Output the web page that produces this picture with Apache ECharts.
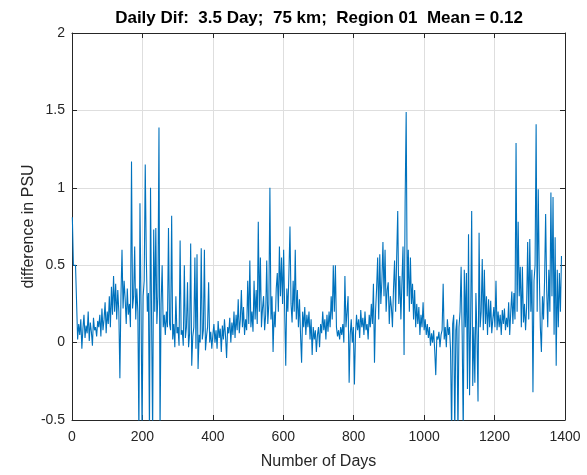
<!DOCTYPE html>
<html>
<head>
<meta charset="utf-8">
<script src="https://cdn.jsdelivr.net/npm/echarts@6/dist/echarts.min.js"></script>
<style>
  html, body { margin: 0; padding: 0; background: #fff; }
  #chart { width: 587px; height: 475px; }
</style>
</head>
<body>
<div id="chart"></div>
<script>
// daily salinity difference (PSU), one sample every 3 days starting at day 1
const firstDay = 1;
const dayStep = 3;
const psuDiff = [
  // days 1-13
  0.81, 0.5, 0.5, 0.5, 0.5,
  // days 16-73
  0.02, 0.12, 0.05, 0.15, -0.04, 0.09, 0.18, 0.03, 0.11, 0.06, 0.2, 0.01, 0.13, 0.07, -0.02, 0.16, 0.08, 0.1, 0.04, 0.14,
  // days 76-133
  0.1, 0.18, 0.04, 0.22, 0.08, 0.15, 0.26, 0.06, 0.2, 0.12, 0.3, 0.1, 0.36, 0.18, 0.43, 0.2, 0.38, 0.15, 0.34, 0.2,
  // days 136-148
  -0.23, 0.3, 0.6, 0.22, 0.4,
  // days 151-208
  0.28, 0.12, 0.35, 0.18, 0.25, 0.1, 1.17, 0.22, 0.3, 0.62, 0.15, 0.35, 0.2, -0.6, 0.9, 0.25, -0.6, 0.3, 0.4, 1.15,
  // days 211-259
  0.55, 0.2, 0.32, -0.6, 1.0, 0.15, -0.6, 0.73, 0.2, 0.74, 0.12, 0.3, 1.39, -0.6, 0.25, 0.5, 0.1,
  // days 262-310
  0.18, 0.05, 0.2, 0.1, 0.74, 0.12, 0.08, 0.82, 0.02, 0.12, -0.03, 0.3, 0.06, 0.1, -0.02, 0.66, 0.05,
  // days 313-400
  0.08, -0.02, 0.5, 0.03, 0.1, 0.39, -0.03, 0.06, 0.64, -0.15, 0.04, 0.1, 0.55, -0.04, 0.57, -0.17, 0.05, 0.0, 0.61, 0.02,
  0.08, 0.6, -0.05, 0.04, 0.1, 0.39, 0.0, 0.07, -0.04, 0.05,
  // days 403-478
  0.12, 0.0, 0.08, -0.04, 0.14, 0.03, 0.09, -0.06, 0.11, 0.02, 0.15, 0.04, -0.1, 0.1, 0.06, 0.16, 0.0, 0.13, 0.05, 0.2,
  0.03, 0.18, 0.08, 0.28, 0.06, 0.15,
  // days 481-559
  0.34, 0.1, 0.23, 0.05, 0.15, 0.08, 0.4, 0.12, 0.53, 0.1, 0.2, 0.07, 0.4, 0.15, 0.34, 0.12, 0.78, 0.2, 0.55, 0.1,
  0.22, 0.3, 0.08, 0.18, 0.53, 0.12, 0.25,
  // days 562-658
  1.0, 0.15, 0.3, -0.06, 0.2, 0.1, 0.35, 0.45, 0.2, 0.62, 0.3, 0.55, 0.25, 0.6, 0.2, -0.15, 0.35, 0.2, 0.45, 0.75,
  0.25, 0.13, 0.4, 0.2, 0.6, 0.15, 0.34, 0.1, 0.28, 0.05, -0.13, 0.2, 0.1,
  // days 661-760
  0.23, 0.05, 0.18, 0.1, 0.2, 0.02, 0.15, -0.08, 0.1, 0.02, 0.08, -0.06, 0.05, 0.1, -0.03, 0.12, 0.06, 0.2, 0.08, 0.15,
  0.02, 0.18, 0.07, 0.2, 0.1, 0.3, 0.15, 0.5, 0.2, 0.5, 0.1, 0.04, 0.08, 0.02,
  // days 763-859
  0.1, 0.05, 0.12, 0.0, 0.43, 0.1, 0.2, 0.3, -0.26, 0.05, 0.15, 0.0, 0.1, -0.27, 0.05, 0.18, 0.08, 0.15, 0.03, 0.21,
  0.1, 0.16, 0.05, 0.2, 0.08, 0.12, 0.02, 0.18, 0.1, 0.25, 0.12, 0.38, -0.13,
  // days 862-949
  0.2, 0.35, 0.55, 0.15, 0.57, 0.25, 0.4, 0.65, 0.3, 0.6, 0.2, 0.34, 0.39, 0.12, 0.3, 0.23, 0.1, 0.35, 0.53, 0.2,
  0.55, 0.85, 0.25, 0.43, 0.15, 0.4, 0.62, -0.08, 0.91, 1.49,
  // days 952-1048
  0.3, 0.6, 0.2, 0.55, 0.25, 0.38, 0.15, 0.34, 0.1, 0.25, 0.12, 0.23, 0.05, 0.18, 0.1, 0.26, 0.08, 0.15, 0.05, 0.12,
  0.03, 0.1, -0.02, 0.06, 0.0, 0.08, -0.05, -0.21, 0.04, 0.02, 0.07, -0.03, 0.05,
  // days 1051-1111
  0.08, 0.38, 0.02, 0.1, -0.03, 0.15, 0.05, 0.1, -0.05, -0.6, 0.12, 0.18, -0.6, 0.08, 0.15, -0.6, 0.1, 0.2, 0.49, 0.05,
  -0.6,
  // days 1114-1198
  0.47, 0.1, 0.45, -0.3, 0.7, -0.34, 0.15, 0.85, -0.28, 0.1, -0.26, 0.32, 0.05, -0.38, 0.71, 0.1, 0.2, 0.54, 0.08, 0.47,
  0.12, 0.3, 0.05, 0.28, 0.1, 0.27, 0.06, 0.15, 0.23,
  // days 1201-1300
  0.1, 0.4, 0.08, 0.2, 0.1, 0.18, 0.05, 0.21, 0.12, 0.22, 0.08, 0.16, 0.1, 0.26, 0.05, 0.2, 0.33, 0.12, 0.32, 0.15,
  1.29, 0.2, 0.78, 0.3, 0.49, 0.1, 0.49, 0.13, 0.25, 0.08, 0.23, 0.65, 0.15, 0.67,
  // days 1303-1390
  0.2, 0.47, -0.32, 0.4, 0.5, 1.41, 0.2, 0.99, 0.45, 0.1, -0.06, 0.3, 0.15, 0.4, 0.83, 0.34, 0.1, 0.47, 0.2, 0.97,
  0.3, 0.94, 0.05, 0.68, -0.15, 0.47, 0.1, 0.45, 0.2, 0.56
];

const xTicks = [0, 200, 400, 600, 800, 1000, 1200, 1400];
const yTicks = [-0.5, 0, 0.5, 1, 1.5, 2];

const fontFamily = '"Liberation Sans", Arial, Helvetica, sans-serif';
const axisColor = '#262626';
const gridColor = '#dedede';

const seriesData = psuDiff.map((v, i) => [firstDay + i * dayStep, v]);

const myChart = echarts.init(document.getElementById('chart'), null, { renderer: 'canvas' });

const axisCommon = {
  type: 'value',
  axisLine: { show: true, onZero: false, lineStyle: { color: axisColor, width: 1 } },
  axisTick: { show: true, inside: true, length: 5, lineStyle: { color: axisColor } },
  splitLine: { show: false }
};

const option = {
  animation: false,
  backgroundColor: '#fff',
  title: {
    text: 'Daily Dif:  3.5 Day;  75 km;  Region 01  Mean = 0.12',
    left: 319,
    top: 10,
    textAlign: 'center',
    padding: 0,
    textStyle: { fontFamily: fontFamily, fontSize: 17, fontWeight: 'bold', color: '#000' }
  },
  grid: { left: 72, right: 22, top: 33, bottom: 52, show: false },
  xAxis: [
    Object.assign({}, axisCommon, {
      position: 'bottom',
      min: xTicks[0],
      max: xTicks[xTicks.length - 1],
      interval: 200,
      name: 'Number of Days',
      nameLocation: 'middle',
      nameGap: 34,
      nameMoveOverlap: false,
      nameTextStyle: { fontFamily: fontFamily, fontSize: 16, color: axisColor },
      axisLabel: {
        show: true, margin: 10, fontFamily: fontFamily, fontSize: 14, color: axisColor,
        showMinLabel: true, showMaxLabel: true,
        formatter: (v) => String(v)
      },
      splitLine: { show: true, lineStyle: { color: gridColor, width: 1 } }
    }),
    Object.assign({}, axisCommon, {
      position: 'top',
      min: xTicks[0],
      max: xTicks[xTicks.length - 1],
      interval: 200,
      axisLabel: { show: false }
    })
  ],
  yAxis: [
    Object.assign({}, axisCommon, {
      position: 'left',
      min: yTicks[0],
      max: yTicks[yTicks.length - 1],
      interval: 0.5,
      name: 'difference in PSU',
      nameLocation: 'middle',
      nameGap: 35,
      nameMoveOverlap: false,
      nameTextStyle: { fontFamily: fontFamily, fontSize: 16, color: axisColor },
      axisLabel: {
        show: true, margin: 7, fontFamily: fontFamily, fontSize: 14, color: axisColor,
        showMinLabel: true, showMaxLabel: true,
        formatter: (v) => String(v)
      },
      splitLine: { show: true, lineStyle: { color: gridColor, width: 1 } }
    }),
    Object.assign({}, axisCommon, {
      position: 'right',
      min: yTicks[0],
      max: yTicks[yTicks.length - 1],
      interval: 0.5,
      axisLabel: { show: false }
    })
  ],
  series: [
    {
      name: 'Region 01',
      type: 'line',
      xAxisIndex: 0,
      yAxisIndex: 0,
      data: seriesData,
      showSymbol: false,
      symbol: 'none',
      clip: true,
      lineStyle: { color: '#0072BD', width: 1.1 }
    }
  ]
};

myChart.setOption(option);
</script>
</body>
</html>
